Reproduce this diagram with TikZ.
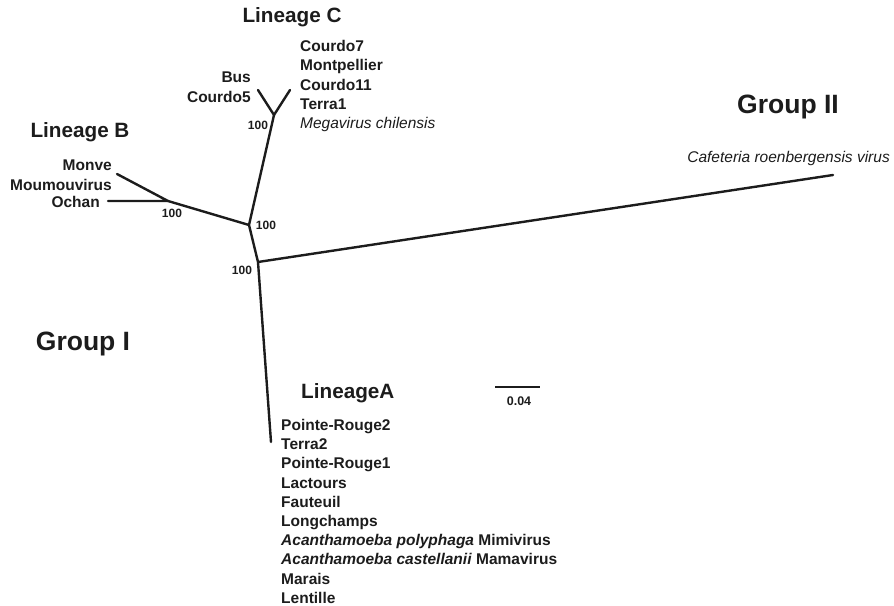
\documentclass[tikz,border=0pt]{standalone}
\usepackage{fontspec}
\setmainfont{Liberation Sans}
\definecolor{ink}{HTML}{1C1C1C}
\tikzset{
  branch/.style={draw=ink, line width=2.4pt, line cap=round, line join=round},
  leaf/.style={font=\fontsize{15.5}{18}\selectfont\bfseries, text=ink, inner sep=0pt},
  leafit/.style={font=\fontsize{15.5}{18}\selectfont\itshape, text=ink, inner sep=0pt},
  boot/.style={font=\fontsize{12}{14}\selectfont\bfseries, text=ink, inner sep=0pt},
  lineage/.style={font=\fontsize{20.7}{24}\selectfont\bfseries, text=ink, inner sep=0pt},
  grouplbl/.style={font=\fontsize{26.5}{30}\selectfont\bfseries, text=ink, inner sep=0pt},
}
\begin{document}
\begin{tikzpicture}[x=1pt, y=-1pt]
\useasboundingbox (0,0) rectangle (894,605);

% tree nodes and tips
\coordinate (Q)   at (258,262);
\coordinate (P)   at (249,225);
\coordinate (C)   at (274,115);
\coordinate (Ct1) at (258,90);
\coordinate (Ct2) at (290,90);
\coordinate (B)   at (168,201);
\coordinate (Bt1) at (117,174);
\coordinate (Bt2) at (108,201);
\coordinate (At)  at (271,442);
\coordinate (Gt)  at (833,175);

% branches
\draw[branch] (At) -- (Q) -- (Gt);
\draw[branch] (Q) -- (P) -- (C);
\draw[branch] (Ct1) -- (C) -- (Ct2);
\draw[branch] (P) -- (B);
\draw[branch] (Bt1) -- (B) -- (Bt2);

% bootstrap values
\node[boot] (bq) at (242,270) {100};
\node[boot] (bp) at (266,225) {100};
\node[boot] (bc) at (258,125) {100};
\node[boot] (bb) at (172,213) {100};

% group and lineage titles
\node[grouplbl, anchor=base] (g2) at (788,113) {Group II};
\node[grouplbl, anchor=base] (g1) at (83,350) {Group I};
\node[lineage, anchor=base] (lc) at (292,22) {Lineage C};
\node[lineage, anchor=base] (lb) at (80,137) {Lineage B};
\node[lineage, anchor=base west] (la) at (301,398) {LineageA};

% lineage C leaves
\node[leaf, anchor=base west] (c1) at (300,51.5) {Courdo7};
\node[leaf, anchor=base west] (c2) at (300,70.8) {Montpellier};
\node[leaf, anchor=base west] (c3) at (300,90.1) {Courdo11};
\node[leaf, anchor=base west] (c4) at (300,109.4) {Terra1};
\node[leafit, anchor=base west] (c5) at (300,128.7) {Megavirus chilensis};
\node[leaf, anchor=base east] (c6) at (251,82.5) {Bus};
\node[leaf, anchor=base east] (c7) at (251,102.5) {Courdo5};

% lineage B leaves
\node[leaf, anchor=base east] (b1) at (112,170.5) {Monve};
\node[leaf, anchor=base east] (b2) at (112,190) {Moumouvirus};
\node[leaf, anchor=base east] (b3) at (100,207.5) {Ochan};

% group II leaf
\node[leafit, anchor=base east] (g2leaf) at (890,162) {Cafeteria roenbergensis virus};

% lineage A leaves
\foreach \t [count=\i] in {Pointe-Rouge2, Terra2, Pointe-Rouge1, Lactours, Fauteuil, Longchamps,
    {\textit{Acanthamoeba polyphaga} Mimivirus},
    {\textit{Acanthamoeba castellanii} Mamavirus},
    Marais, Lentille}
  \node[leaf, anchor=base west] (a\i) at (281,{430.5+19.2*(\i-1)}) {\t};

% scale bar
\coordinate (s1) at (495,387);
\coordinate (s2) at (540,387);
\draw[draw=ink, line width=1.8pt] (s1) -- (s2);
\node[font=\fontsize{12.5}{14}\selectfont\bfseries, text=ink, inner sep=0pt, anchor=base] (sl) at (519,405) {0.04};
\end{tikzpicture}
\end{document}
